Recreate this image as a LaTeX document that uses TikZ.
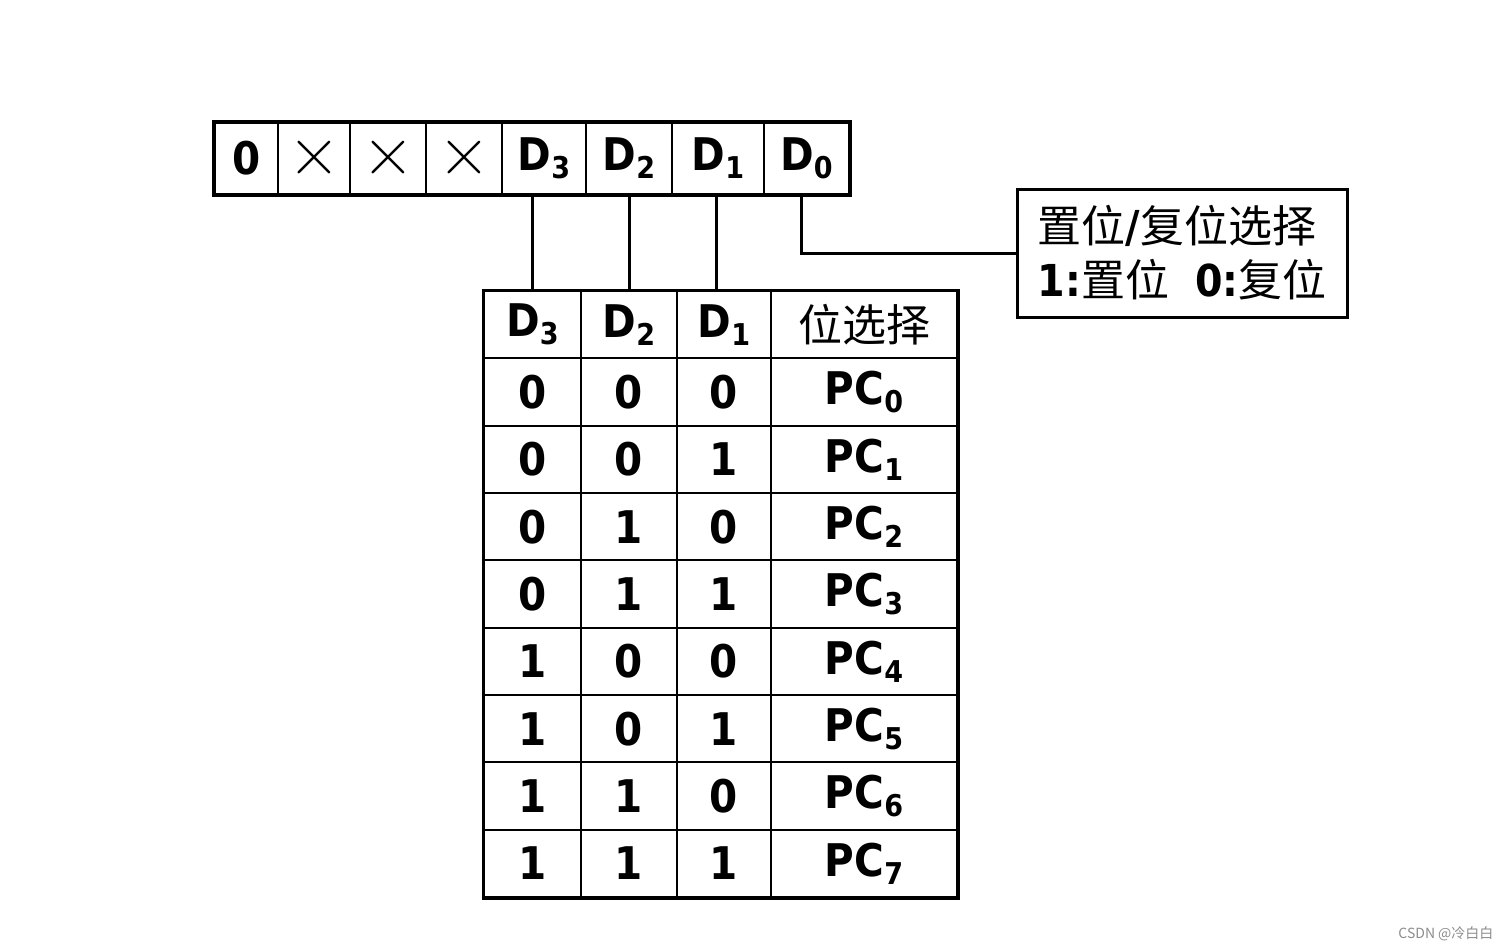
\documentclass[tikz,border=0pt]{standalone}
\usepackage{fontspec}
\usetikzlibrary{positioning}

\newfontfamily\digitfont{DejaVu Sans Condensed Bold}
\newfontfamily\cjk{Noto Sans CJK SC}
\newcommand{\lowidx}[1]{\raisebox{-8pt}{\fontsize{30}{30}\selectfont #1}}
\newcommand{\crossmark}{{\normalfont\fontsize{72}{72}\selectfont ×}}

\tikzset{
    regcell/.style={draw, line width=2.5pt, inner sep=0pt, minimum height=71pt,
        font={\digitfont\fontsize{45}{50}\selectfont}},
    tabcell/.style={draw, line width=2pt, inner sep=0pt, minimum height=67.33pt,
        font={\digitfont\fontsize{45}{50}\selectfont}},
    wire/.style={line width=3pt}
}

\begin{document}
\begin{tikzpicture}[x=1pt, y=-1pt]
    \useasboundingbox (0,0) rectangle (1511,951);
    % control word
    \node[regcell, minimum width=63pt] (r1) at (246.5,158.5) {0};
    \node[regcell, minimum width=72pt] (r2) at (314,158.5) {\crossmark};
    \node[regcell, minimum width=76pt] (r3) at (388,158.5) {\crossmark};
    \node[regcell, minimum width=76pt] (r4) at (464,158.5) {\crossmark};
    \node[regcell, minimum width=84pt] (r5) at (544,158.5) {D\lowidx{3}};
    \node[regcell, minimum width=86pt] (r6) at (629,158.5) {D\lowidx{2}};
    \node[regcell, minimum width=92pt] (r7) at (718,158.5) {D\lowidx{1}};
    \node[regcell, minimum width=85pt] (r8) at (806.5,158.5) {D\lowidx{0}};
    \draw[line width=3.5pt] (r1.north west) rectangle (r8.south east);

    % bit table
    \node[tabcell, minimum width=97pt] (h1) at (532.5,324.7) {D\lowidx{3}};
    \node[tabcell, minimum width=96pt] (h2) at (629,324.7) {D\lowidx{2}};
    \node[tabcell, minimum width=94pt] (h3) at (724,324.7) {D\lowidx{1}};
    \node[tabcell, minimum width=186pt] (h4) at (864,324.7) {\cjk\fontsize{44}{44}\selectfont 位选择};
    \foreach \a/\b/\c/\p [count=\i] in {0/0/0/0, 0/0/1/1, 0/1/0/2, 0/1/1/3,
                                       1/0/0/4, 1/0/1/5, 1/1/0/6, 1/1/1/7} {
        \node[tabcell, minimum width=97pt] (a\i) at (532.5,{324.7+67.33*\i}) {\a};
        \node[tabcell, minimum width=96pt] (b\i) at (629,{324.7+67.33*\i}) {\b};
        \node[tabcell, minimum width=94pt] (c\i) at (724,{324.7+67.33*\i}) {\c};
        \node[tabcell, minimum width=186pt] (p\i) at (864,{324.7+67.33*\i}) {PC\lowidx{\p}};
    }
    \draw[line width=3pt] (h1.north west) rectangle (p8.south east);

    % note
    \node[draw, line width=3pt, minimum width=330pt, minimum height=128pt,
          inner sep=0pt, align=left, font={\cjk\fontsize{44}{54}\selectfont}] (note) at (1182,253)
        {置位{\digitfont/}复位选择\\
         {\digitfont 1:}置位\hspace{26pt}{\digitfont 0:}复位};

    % connectors
    \draw[wire] (r5.south -| h1.north) -- (h1.north);
    \draw[wire] (r6.south -| h2.north) -- (h2.north);
    \draw[wire] ([xshift=-8pt]r7.south -| h3.north) -- ([xshift=-8pt]h3.north);
    \draw[wire] ([xshift=-5pt]r8.south) |- (note.west);

    \node[anchor=east, text=black!45, font={\cjk\fontsize{14}{14}\selectfont}] (mark) at (1497,934) {CSDN @冷白白};
\end{tikzpicture}
\end{document}
